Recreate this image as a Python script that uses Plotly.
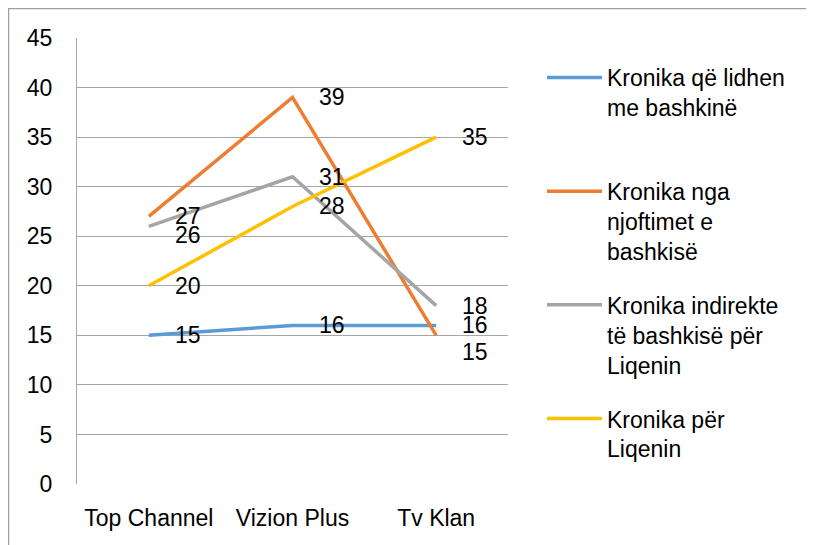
import plotly.graph_objects as go

categories = ["Top Channel", "Vizion Plus", "Tv Klan"]
series_names = [
    "Kronika që lidhen<br>me bashkinë<br> ",
    "Kronika nga<br>njoftimet e<br>bashkisë",
    "Kronika indirekte<br>të bashkisë për<br>Liqenin",
    "Kronika për<br>Liqenin",
]
s_lidhen = [15, 16, 16]
s_njoftimet = [27, 39, 15]
s_indirekte = [26, 31, 18]
s_liqenin = [20, 28, 35]
y_ticks = [0, 5, 10, 15, 20, 25, 30, 35, 40, 45]

series_values = [s_lidhen, s_njoftimet, s_indirekte, s_liqenin]
colors = ["#5B9BD5", "#ED7D31", "#A5A5A5", "#FFC000"]
# vertical nudges (px) for labels that sit shifted in the original
label_nudge = {(2, 0): -9, (1, 2): -17}

FONT = "Liberation Sans"
O = 8  # page body margin
W, H = 814 - O, 545 - O
L, T = 77 - O, 38 - O
pw, ph = 431, 446
R, B = W - L - pw, H - T - ph

fig = go.Figure()
for i, (name, vals, col) in enumerate(zip(series_names, series_values, colors)):
    fig.add_trace(go.Scatter(
        x=categories, y=vals, name=name, mode="lines",
        line=dict(color=col, width=3.5), legendgroup=f"g{i}",
    ))
    for j, v in enumerate(vals):
        fig.add_annotation(
            x=categories[j], y=v, text=str(v), showarrow=False,
            xanchor="left", yanchor="middle", xshift=24,
            yshift=label_nudge.get((i, j), 0),
            font=dict(family=FONT, size=23, color="#000000"),
        )

# outer chart border (only top/left edges visible in the window)
fig.add_shape(
    type="rect", xref="paper", yref="paper",
    x0=(0.5 - L) / pw, x1=(W + 20 - L) / pw,
    y0=(T + ph - (H + 20)) / ph, y1=(T + ph - 0.5) / ph,
    line=dict(color="#A0A0A0", width=1.5), fillcolor="rgba(0,0,0,0)",
    layer="below",
)

fig.update_layout(
    width=W, height=H,
    margin=dict(l=L, r=R, t=T, b=B, pad=0, autoexpand=False),
    paper_bgcolor="white", plot_bgcolor="white",
    font=dict(family=FONT, size=23, color="#000000"),
    showlegend=True,
    legend=dict(
        x=(542 - O - L) / pw, xanchor="left",
        y=(T + ph - (56 - O)) / ph, yanchor="top",
        valign="top", traceorder="grouped", tracegroupgap=21,
        itemwidth=55, font=dict(family=FONT, size=23, color="#000000"),
        bgcolor="rgba(0,0,0,0)",
    ),
    xaxis=dict(
        type="category", range=[-0.5, 2.5], showgrid=False,
        showline=False, ticks="", ticklabelstandoff=18, automargin=False,
        tickfont=dict(family=FONT, size=23, color="#000000"),
        zeroline=False,
    ),
    yaxis=dict(
        range=[0, 45], tickvals=y_ticks, showgrid=True, gridcolor="#A6A6A6",
        gridwidth=1.3, showline=True, linecolor="#A6A6A6", linewidth=1.3,
        ticks="", ticklabelstandoff=19, zeroline=False, automargin=False,
        tickfont=dict(family=FONT, size=23, color="#000000"),
    ),
)

fig.write_html("out.html")
